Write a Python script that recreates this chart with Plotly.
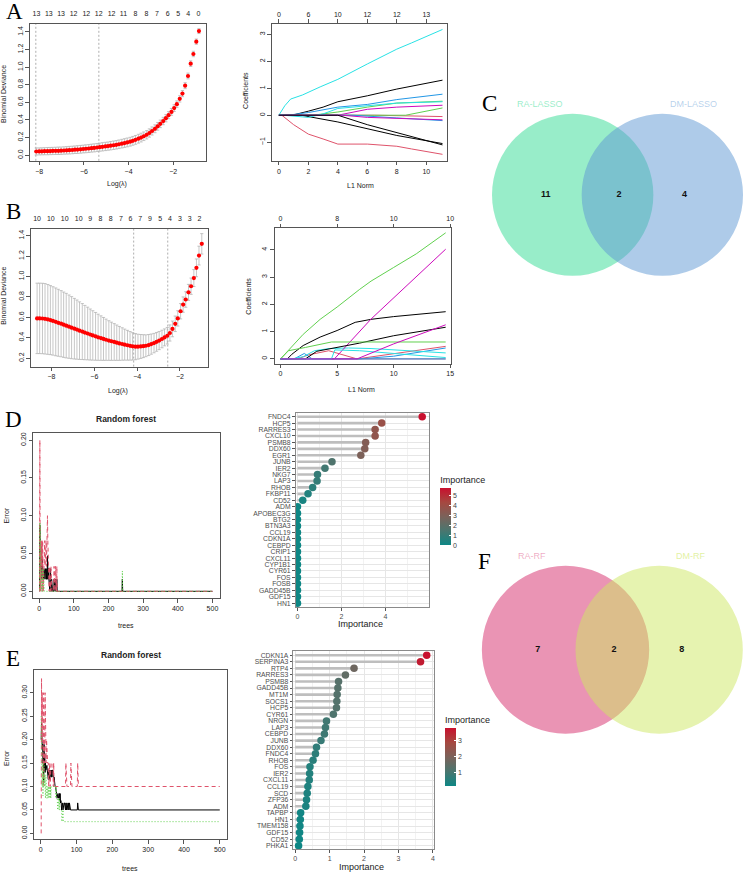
import plotly.graph_objects as go

W, H = 749, 872


def fx(p):
    return p / W


def fy(p):
    return 1 - p / H


SANS = "Liberation Sans"
SERIF = "Liberation Serif"
R_PAL = ["#000000", "#DF536B", "#61D04F", "#2297E6", "#28E2E5", "#CD0BBC"]

# ====================== DATA ======================
# ---- A (RA) : cross-validated LASSO ----
A_loglam = [-8.13, -8.00, -7.88, -7.76, -7.63, -7.51, -7.39, -7.26, -7.14, -7.02,
            -6.89, -6.77, -6.65, -6.52, -6.40, -6.28, -6.15, -6.03, -5.91, -5.78,
            -5.66, -5.54, -5.41, -5.29, -5.17, -5.04, -4.92, -4.80, -4.67, -4.55,
            -4.43, -4.30, -4.18, -4.06, -3.93, -3.81, -3.69, -3.56, -3.44, -3.32,
            -3.19, -3.07, -2.95, -2.82, -2.70, -2.58, -2.45, -2.33, -2.21, -2.08,
            -1.96, -1.84, -1.71, -1.59, -1.47, -1.34, -1.22, -1.10, -0.97, -0.85]
A_dev = [0.042, 0.043, 0.044, 0.045, 0.046, 0.047, 0.048, 0.049, 0.050, 0.051,
         0.053, 0.055, 0.057, 0.059, 0.062, 0.064, 0.067, 0.070, 0.073, 0.076,
         0.080, 0.083, 0.087, 0.091, 0.095, 0.099, 0.103, 0.108, 0.113, 0.118,
         0.124, 0.131, 0.138, 0.145, 0.153, 0.163, 0.174, 0.187, 0.200, 0.215,
         0.232, 0.252, 0.275, 0.300, 0.328, 0.356, 0.388, 0.420, 0.455, 0.492,
         0.535, 0.580, 0.640, 0.700, 0.790, 0.900, 1.040, 1.150, 1.290, 1.410]
A_se = [0.040, 0.040, 0.040, 0.040, 0.041, 0.041, 0.041, 0.041, 0.042, 0.042,
        0.042, 0.042, 0.043, 0.043, 0.043, 0.044, 0.044, 0.044, 0.045, 0.045,
        0.045, 0.046, 0.046, 0.046, 0.047, 0.047, 0.047, 0.048, 0.048, 0.048,
        0.049, 0.049, 0.049, 0.050, 0.050, 0.050, 0.050, 0.050, 0.050, 0.049,
        0.048, 0.047, 0.046, 0.045, 0.044, 0.043, 0.042, 0.041, 0.040, 0.039,
        0.038, 0.037, 0.036, 0.035, 0.034, 0.033, 0.032, 0.031, 0.030, 0.028]
A_lam_lines = [-8.15, -5.33]
A_top_pos = [-8.12, -7.57, -7.02, -6.46, -5.89, -5.34, -4.76, -4.23, -3.69, -3.20,
             -2.73, -2.25, -1.78, -1.33, -0.87]
A_top_lab = ["13", "13", "13", "12", "12", "12", "12", "11", "8", "8", "7", "6", "5", "4", "0"]
A_x_ticks = [-8, -6, -4, -2]
A_y_ticks = [0.0, 0.2, 0.4, 0.6, 0.8, 1.0, 1.2, 1.4]

# ---- A : coefficient paths (L1 norm, coefficient) ----
A_paths = [
    [(0, 0), (0.9, 0), (2, 0.15), (3, 0.3), (4, 0.5), (6, 0.72), (8, 0.97), (11.1, 1.3)],
    [(0, 0), (0.2, 0), (1, -0.35), (2, -0.7), (3, -0.88), (4, -1.07), (6, -1.07), (8, -1.15), (9, -1.25), (11.1, -1.45)],
    [(0, 0), (2.3, 0), (4, 0.12), (6, 0.3), (8, 0.45), (11.1, 0.52)],
    [(0, 0), (0.6, 0), (2, 0.1), (4, 0.3), (6, 0.4), (8, 0.58), (11.1, 0.78)],
    [(0, 0), (0.4, 0.35), (0.8, 0.6), (1.6, 0.75), (2.8, 1.05), (4, 1.33), (6, 1.9), (8, 2.45), (9, 2.68), (11.1, 3.18)],
    [(0, 0), (2, 0), (4, 0), (6, 0.22), (8, 0.3), (11.1, 0.37)],
    [(0, 0), (1.5, 0), (4, -0.25), (6, -0.5), (8, -0.75), (11.1, -1.05)],
    [(0, 0), (6.5, 0), (11.1, -0.05)],
    [(0, 0), (4, 0), (8.6, 0), (11.1, 0.27)],
    [(0, 0), (5, 0), (8, -0.1), (11.1, -0.2)],
    [(0, 0), (0.3, 0), (2, -0.08), (3, 0.05), (4, 0.25), (6, 0.35), (8, 0.45), (11.1, 0.5)],
    [(0, 0), (4.3, 0), (6, -0.08), (11.1, -0.17)],
    [(0, 0), (4, 0), (6, -0.35), (8, -0.65), (11.1, -1.1)],
]
A_l1_ticks = [0, 2, 4, 6, 8, 10]
A_l1_top = ["0", "6", "10", "12", "12", "13"]
A_coef_ticks = [-1, 0, 1, 2, 3]

# ---- B (DM) : cross-validated LASSO ----
B_loglam = [-8.67, -8.55, -8.42, -8.30, -8.17, -8.05, -7.93, -7.80, -7.68, -7.55,
            -7.43, -7.31, -7.18, -7.06, -6.93, -6.81, -6.69, -6.56, -6.44, -6.31,
            -6.19, -6.07, -5.94, -5.82, -5.69, -5.57, -5.45, -5.32, -5.20, -5.07,
            -4.95, -4.83, -4.70, -4.58, -4.45, -4.33, -4.21, -4.08, -3.96, -3.83,
            -3.71, -3.59, -3.46, -3.34, -3.21, -3.09, -2.97, -2.84, -2.72, -2.59,
            -2.47, -2.35, -2.22, -2.10, -1.97, -1.85, -1.73, -1.60, -1.48, -1.35,
            -1.23, -1.11, -0.98]
B_dev = [0.590, 0.590, 0.589, 0.586, 0.580, 0.573, 0.565, 0.556, 0.547, 0.538,
         0.528, 0.519, 0.509, 0.499, 0.489, 0.480, 0.470, 0.461, 0.451, 0.442,
         0.432, 0.423, 0.414, 0.405, 0.397, 0.389, 0.381, 0.373, 0.366, 0.359,
         0.352, 0.345, 0.339, 0.333, 0.327, 0.321, 0.316, 0.313, 0.313, 0.315,
         0.318, 0.322, 0.329, 0.338, 0.348, 0.360, 0.373, 0.388, 0.404, 0.420,
         0.447, 0.487, 0.537, 0.590, 0.660, 0.725, 0.775, 0.845, 0.905, 0.985,
         1.085, 1.205, 1.320]
B_se = [0.345, 0.345, 0.345, 0.345, 0.342, 0.338, 0.335, 0.332, 0.328, 0.324,
        0.320, 0.316, 0.310, 0.304, 0.297, 0.290, 0.282, 0.274, 0.266, 0.258,
        0.250, 0.242, 0.234, 0.226, 0.218, 0.210, 0.202, 0.194, 0.187, 0.180,
        0.173, 0.166, 0.159, 0.152, 0.146, 0.140, 0.134, 0.128, 0.122, 0.117,
        0.112, 0.107, 0.103, 0.099, 0.095, 0.092, 0.089, 0.086, 0.083, 0.081,
        0.079, 0.077, 0.076, 0.075, 0.075, 0.075, 0.076, 0.078, 0.080, 0.083,
        0.087, 0.092, 0.100]
B_lam_lines = [-4.16, -2.57]
B_top_pos = [-8.67, -8.03, -7.38, -6.73, -6.19, -5.71, -5.23, -4.76, -4.31, -3.86,
             -3.40, -2.92, -2.47, -2.00, -1.54, -1.09]
B_top_lab = ["10", "10", "10", "10", "9", "8", "8", "7", "6", "7", "9", "5", "4", "3", "3", "2"]
B_x_ticks = [-8, -6, -4, -2]
B_y_ticks = [0.2, 0.4, 0.6, 0.8, 1.0, 1.2, 1.4]

B_paths = [
    [(0, 0), (0.6, 0), (1, 0.17), (2, 0.49), (3.5, 0.8), (5, 1.04), (6.6, 1.34), (8, 1.45), (10, 1.55), (14.6, 1.73)],
    [(0, 0), (1.5, 0), (2.5, 0.15), (4.26, 0.3), (6.76, 0), (10, 0.2), (14.6, 0.46)],
    [(0, 0), (1, 0.45), (2, 0.9), (3.5, 1.45), (5, 1.9), (7, 2.55), (8, 2.85), (10, 3.35), (12, 3.85), (14.6, 4.62)],
    [(0, 0), (1.2, 0), (2.1, 0.2), (2.8, 0), (7, 0), (10, 0.1), (14.6, 0.4)],
    [(0, 0), (1, 0), (2, 0.08), (3, 0.3), (4.3, 0.38), (6, 0.4), (8, 0.38), (10, 0.33), (14.6, 0.22)],
    [(0, 0), (4.76, 0), (8, 1.46), (14.6, 4.02)],
    [(0, 0), (2.2, 0), (3.2, 0.28), (5, 0.42), (7, 0.58), (10, 0.85), (14.6, 1.16)],
    [(0, 0), (14.6, 0)],
    [(0, 0), (0.7, 0.3), (2.2, 0.42), (3.5, 0.52), (4.5, 0.62), (14.6, 0.62)],
    [(0, 0), (14.6, 0)],
    [(0, 0), (4.5, 0), (4.8, 0.33), (7, 0.3), (10, 0.2), (14.6, 0.05)],
    [(0, 0), (6.76, 0), (10, 0.55), (14.6, 1.25)],
]
B_l1_ticks = [0, 5, 10, 15]
B_l1_top = ["0", "8", "10", "10"]
B_coef_ticks = [0, 1, 2, 3, 4]

# ---- C : Venn LASSO ----
C_sets = ["RA-LASSO", "DM-LASSO"]
C_counts = [11, 2, 4]

# ---- D (RA) : random forest error ----
D_trees = list(range(1, 53)) + [239, 240, 241, 500]
D_oob = [0.0, 0.088, 0.06, 0.03, 0.06, 0.03, 0.045, 0.016, 0.045, 0.03,
         0.016, 0.03, 0.016, 0.03, 0.016, 0.03, 0.016, 0.03, 0.016, 0.03,
         0.016, 0.03, 0.016, 0.047, 0.03, 0.016, 0.03, 0.016, 0.0, 0.016,
         0.0, 0.03, 0.0, 0.016, 0.0, 0.016, 0.0, 0.0, 0.0, 0.0,
         0.0, 0.0, 0.016, 0.0, 0.016, 0.0, 0.016, 0.0, 0.016, 0.0,
         0.016, 0.0,
         0.0, 0.016, 0.0, 0.0]
D_cls1 = [0.0, 0.2, 0.0, 0.067, 0.0, 0.067, 0.033, 0.067, 0.0, 0.067,
          0.033, 0.0, 0.033, 0.067, 0.033, 0.067, 0.033, 0.067, 0.033, 0.067,
          0.033, 0.067, 0.033, 0.1, 0.067, 0.033, 0.067, 0.033, 0.0, 0.033,
          0.0, 0.033, 0.0, 0.033, 0.0, 0.033, 0.0, 0.0, 0.0, 0.0,
          0.0, 0.0, 0.033, 0.0, 0.033, 0.0, 0.033, 0.0, 0.033, 0.0,
          0.033, 0.0,
          0.0, 0.0, 0.0, 0.0]
D_cls2 = [0.09, 0.0, 0.09, 0.06, 0.03, 0.06, 0.0, 0.03, 0.0, 0.03,
          0.0, 0.03, 0.0, 0.0, 0.0, 0.0, 0.0, 0.0, 0.0, 0.0,
          0.0, 0.0, 0.0, 0.0, 0.0, 0.0, 0.0, 0.0, 0.0, 0.0,
          0.0, 0.0, 0.0, 0.0, 0.0, 0.0, 0.0, 0.0, 0.0, 0.0,
          0.0, 0.0, 0.0, 0.0, 0.0, 0.0, 0.0, 0.0, 0.0, 0.0,
          0.0, 0.0,
          0.0, 0.027, 0.0, 0.0]
D_x_ticks = [0, 100, 200, 300, 400, 500]
D_y_ticks = [0.0, 0.05, 0.10, 0.15, 0.20]

# ---- D : importance ----
D_genes = ["FNDC4", "HCP5", "RARRES3", "CXCL10", "PSMB8", "DDX60", "EGR1", "JUNB", "IER2", "NKG7",
           "LAP3", "RHOB", "FKBP11", "CD52", "ADM", "APOBEC3G", "BTG2", "BTN3A3", "CCL19", "CDKN1A",
           "CEBPD", "CRIP1", "CXCL11", "CYP1B1", "CYR61", "FOS", "FOSB", "GADD45B", "GDF15", "HN1"]
D_imp = [5.67, 3.83, 3.53, 3.53, 3.10, 3.06, 2.88, 1.57, 1.25, 0.91,
         0.89, 0.69, 0.48, 0.24, 0.0, 0.0, 0.0, 0.0, 0.0, 0.0,
         0.0, 0.0, 0.0, 0.0, 0.0, 0.0, 0.0, 0.0, 0.0, 0.0]
D_imp_ticks = [0, 2, 4]
D_cbar_ticks = [0, 1, 2, 3, 4, 5]

# ---- E (DM) : random forest error ----
E_trees = list(range(1, 106)) + [500]
E_oob = [0.20, 0.235, 0.21, 0.18, 0.19, 0.15, 0.16, 0.11, 0.19, 0.14,
         0.17, 0.13, 0.15, 0.135, 0.145, 0.135, 0.145, 0.135, 0.12, 0.135,
         0.115, 0.135, 0.12, 0.135, 0.115, 0.135, 0.12, 0.135, 0.12, 0.135,
         0.12, 0.135, 0.135, 0.12, 0.135, 0.115, 0.12, 0.1, 0.115, 0.1,
         0.1, 0.085, 0.1, 0.085, 0.075, 0.085, 0.075, 0.085, 0.075, 0.085,
         0.075, 0.085, 0.07, 0.085, 0.065, 0.07, 0.065, 0.05, 0.065, 0.05,
         0.065, 0.05, 0.065, 0.05, 0.065, 0.065, 0.05, 0.065, 0.05, 0.065,
         0.05, 0.05, 0.065, 0.05, 0.05, 0.05, 0.065, 0.05, 0.05, 0.065,
         0.05, 0.05, 0.05, 0.05, 0.05, 0.05, 0.05, 0.05, 0.05, 0.05,
         0.05, 0.05, 0.05, 0.05, 0.05, 0.05, 0.05, 0.05, 0.05, 0.05,
         0.05, 0.05, 0.065, 0.05, 0.05,
         0.05]
E_cls1 = [0.0, 0.33, 0.2, 0.3, 0.15, 0.25, 0.1, 0.3, 0.2, 0.25,
          0.15, 0.3, 0.2, 0.25, 0.15, 0.2, 0.15, 0.2, 0.15, 0.15,
          0.15, 0.1, 0.15, 0.15, 0.15, 0.1, 0.15, 0.15, 0.15, 0.15,
          0.15, 0.15, 0.15, 0.15, 0.1, 0.15, 0.1, 0.1, 0.1, 0.1,
          0.1, 0.1, 0.1, 0.1, 0.1, 0.1, 0.1, 0.1, 0.1, 0.1,
          0.1, 0.1, 0.1, 0.1, 0.1, 0.1, 0.1, 0.1, 0.1, 0.1,
          0.1, 0.1, 0.1, 0.1, 0.1, 0.1, 0.1, 0.1, 0.1, 0.15,
          0.1, 0.15, 0.1, 0.1, 0.1, 0.1, 0.1, 0.1, 0.1, 0.1,
          0.1, 0.1, 0.1, 0.15, 0.1, 0.15, 0.1, 0.1, 0.1, 0.1,
          0.1, 0.1, 0.1, 0.1, 0.1, 0.1, 0.1, 0.1, 0.1, 0.1,
          0.1, 0.1, 0.15, 0.1, 0.1,
          0.1]
E_cls2 = [0.25, 0.15, 0.2, 0.1, 0.15, 0.08, 0.125, 0.1, 0.15, 0.1,
          0.125, 0.1, 0.075, 0.125, 0.1, 0.1, 0.075, 0.1, 0.075, 0.075,
          0.1, 0.075, 0.075, 0.1, 0.075, 0.075, 0.1, 0.075, 0.1, 0.1,
          0.1, 0.1, 0.1, 0.1, 0.1, 0.1, 0.1, 0.1, 0.1, 0.1,
          0.1, 0.075, 0.1, 0.075, 0.075, 0.075, 0.05, 0.075, 0.05, 0.075,
          0.05, 0.075, 0.05, 0.05, 0.05, 0.05, 0.05, 0.05, 0.025, 0.05,
          0.025, 0.05, 0.025, 0.025, 0.025, 0.025, 0.025, 0.025, 0.025, 0.025,
          0.025, 0.025, 0.025, 0.025, 0.025, 0.025, 0.025, 0.025, 0.025, 0.025,
          0.025, 0.025, 0.025, 0.025, 0.025, 0.025, 0.025, 0.025, 0.025, 0.025,
          0.025, 0.025, 0.025, 0.025, 0.025, 0.025, 0.025, 0.025, 0.025, 0.025,
          0.025, 0.025, 0.025, 0.025, 0.025,
          0.025]
E_x_ticks = [0, 100, 200, 300, 400, 500]
E_y_ticks = [0.0, 0.05, 0.10, 0.15, 0.20, 0.25, 0.30]

# ---- E : importance ----
E_genes = ["CDKN1A", "SERPINA3", "RTP4", "RARRES3", "PSMB8", "GADD45B", "MT1M", "SOCS1", "HCP5", "CYR61",
           "NRGN", "LAP3", "CEBPD", "JUNB", "DDX60", "FNDC4", "RHOB", "FOS", "IER2", "CXCL11",
           "CCL19", "SCD", "ZFP36", "ADM", "TAPBP", "HN1", "TMEM158", "GDF15", "CD52", "PHKA1"]
E_imp = [3.82, 3.64, 1.71, 1.46, 1.26, 1.24, 1.22, 1.21, 1.20, 1.11,
         0.91, 0.88, 0.85, 0.75, 0.62, 0.59, 0.52, 0.43, 0.42, 0.41,
         0.37, 0.35, 0.33, 0.31, 0.16, 0.15, 0.14, 0.13, 0.12, 0.10]
E_imp_ticks = [0, 1, 2, 3, 4]
E_cbar_ticks = [1, 2, 3]

# ---- F : Venn RF ----
F_sets = ["RA-RF", "DM-RF"]
F_counts = [7, 2, 8]

# ====================== STYLE ======================
CS = [[0.0, "#0E8785"], [0.25, "#4A766F"], [0.5, "#7B625A"], [0.75, "#A64840"], [1.0, "#C8102E"]]
R_TICKFONT = dict(family=SANS, size=7, color="#222222")
R_AX = dict(showline=True, linecolor="#555555", linewidth=1, mirror=True, ticks="outside",
            ticklen=3.5, tickwidth=0.8, tickcolor="#555555", showgrid=False, zeroline=False,
            tickfont=R_TICKFONT)
GG_AX = dict(showline=True, linecolor="#8A8A8A", linewidth=1, mirror=True, ticks="outside",
             ticklen=2.5, tickwidth=0.8, tickcolor="#555555", showgrid=True, gridcolor="#E6E6E6",
             gridwidth=0.8, zeroline=False, tickfont=dict(family=SANS, size=7, color="#4D4D4D"))

fig = go.Figure()
lay = {}
annots = []


def dom_x(a, b):
    return [fx(a), fx(b)]


def dom_y(top, bottom):
    return [fy(bottom), fy(top)]


def ann(text, x, y, size=7, rot=0, color="#222222", family=SANS):
    annots.append(dict(text=text, x=fx(x), y=fy(y), xref="paper", yref="paper", showarrow=False,
                       textangle=rot, xanchor="center", yanchor="middle",
                       font=dict(family=family, size=size, color=color)))


def r_box(xn, yn, xpx, ypx, xr, yr, xt, yt, yfmt=None):
    xk = "xaxis" if xn == 1 else f"xaxis{xn}"
    yk = "yaxis" if yn == 1 else f"yaxis{yn}"
    xa = dict(R_AX, domain=dom_x(*xpx), range=xr, tickvals=xt, anchor=("y" if yn == 1 else f"y{yn}"))
    ya = dict(R_AX, domain=dom_y(*ypx), range=yr, tickvals=yt, anchor=("x" if xn == 1 else f"x{xn}"),
              tickangle=-90)
    if yfmt:
        ya["tickformat"] = yfmt
    lay[xk] = xa
    lay[yk] = ya


def r_top(xn, base, yn, xr, tv, tt, ticks):
    lay[f"xaxis{xn}"] = dict(overlaying=base, side="top", anchor=("y" if yn == 1 else f"y{yn}"),
                             range=xr, tickvals=tv, ticktext=tt, showgrid=False, zeroline=False,
                             showline=False, ticks="outside", ticklen=(3.5 if ticks else 4),
                             tickwidth=0.8, tickcolor=("#555555" if ticks else "rgba(0,0,0,0)"),
                             tickfont=R_TICKFONT)


def cv_traces(xa, xt, ya, loglam, dev, se, lam_lines, top_pos):
    fig.add_trace(go.Scatter(x=loglam, y=dev, mode="markers",
                             marker=dict(color="#FF0000", size=4.2, line=dict(width=0)),
                             error_y=dict(type="data", array=se, color="#ADADAD", thickness=0.7, width=1.6),
                             xaxis=xa, yaxis=ya, hoverinfo="skip", showlegend=False))
    fig.add_trace(go.Scatter(x=top_pos, y=[dev[0]] * len(top_pos), mode="markers",
                             marker=dict(opacity=0), xaxis=xt, yaxis=ya, hoverinfo="skip",
                             showlegend=False))
    for v in lam_lines:
        fig.add_shape(type="line", xref=xa, yref=f"{ya} domain", x0=v, x1=v, y0=0, y1=1,
                      line=dict(color="#999999", width=0.8, dash="2px,2px"), layer="below")


def path_traces(paths, xa, xt, ya, top_pos):
    for i, path in enumerate(paths):
        fig.add_trace(go.Scatter(x=[p[0] for p in path], y=[p[1] for p in path], mode="lines",
                                 line=dict(color=R_PAL[i % 6], width=1), xaxis=xa, yaxis=ya,
                                 hoverinfo="skip", showlegend=False))
    fig.add_trace(go.Scatter(x=top_pos, y=[0] * len(top_pos), mode="markers", marker=dict(opacity=0),
                             xaxis=xt, yaxis=ya, hoverinfo="skip", showlegend=False))


def rf_traces(trees, oob, c1, c2, xa, ya):
    for vals, col, dash in [(oob, "#000000", "solid"), (c1, "#DF536B", "4px,3px"),
                            (c2, "#61D04F", "1px,2px")]:
        fig.add_trace(go.Scatter(x=trees, y=vals, mode="lines", line=dict(color=col, width=1, dash=dash),
                                 xaxis=xa, yaxis=ya, hoverinfo="skip", showlegend=False))


def lolli(genes, imp, xa, ya, cmin, cmax, cbar):
    sx, sy = [], []
    for g, v in zip(genes, imp):
        sx += [0, v, None]
        sy += [g, g, None]
    fig.add_trace(go.Scatter(x=sx, y=sy, mode="lines", line=dict(color="#BEBEBE", width=2.6),
                             xaxis=xa, yaxis=ya, hoverinfo="skip", showlegend=False))
    fig.add_trace(go.Scatter(x=imp, y=genes, mode="markers",
                             marker=dict(color=imp, colorscale=CS, cmin=cmin, cmax=cmax, size=7.5,
                                         line=dict(width=0), showscale=True, colorbar=cbar),
                             xaxis=xa, yaxis=ya, hoverinfo="skip", showlegend=False))


def cbar(x_left, y_top, y_bottom, tv):
    return dict(x=fx(x_left), xanchor="left", xpad=0, y=fy(y_bottom), yanchor="bottom", ypad=0,
                lenmode="pixels", len=y_bottom - y_top, thickness=11, thicknessmode="pixels",
                outlinewidth=0, tickvals=tv, ticks="inside", ticklen=2, tickcolor="white",
                tickfont=dict(family=SANS, size=7, color="#444444"),
                title=dict(text="Importance", side="top", font=dict(family=SANS, size=9, color="#222222")))


def gg_cat_y(genes, top, bottom, rng, anchor):
    return dict(GG_AX, domain=dom_y(top, bottom), type="category", categoryorder="array",
                categoryarray=genes, range=rng, anchor=anchor, tickmode="array", tickvals=genes,
                ticktext=genes, tickfont=dict(family=SANS, size=6.8, color="#4D4D4D"))


VENN_NUM_X = [-0.89, 0.02, 0.83]
VENN_LAB_X = [-0.96, 0.94]
VENN_LAB_Y = 1.12


def venn(xn, yn, cx_px, cy_px, unit_px, box, sep, names, counts, fills, labcols):
    x0, x1, ytop, ybot = box
    lay[f"xaxis{xn}"] = dict(domain=dom_x(x0, x1), range=[(x0 - cx_px) / unit_px, (x1 - cx_px) / unit_px],
                             visible=False, anchor=f"y{yn}")
    lay[f"yaxis{yn}"] = dict(domain=dom_y(ytop, ybot), range=[(cy_px - ybot) / unit_px, (cy_px - ytop) / unit_px],
                             visible=False, anchor=f"x{xn}")
    for c, col in zip([-sep, sep], fills):
        fig.add_shape(type="circle", xref=f"x{xn}", yref=f"y{yn}", x0=c - 1, x1=c + 1, y0=-1, y1=1,
                      fillcolor=col, line=dict(width=0), layer="below")
    fig.add_trace(go.Scatter(x=VENN_NUM_X, y=[0, 0, 0], mode="text", text=[f"<b>{c}</b>" for c in counts],
                             textfont=dict(family=SANS, size=9, color="#111111"), xaxis=f"x{xn}",
                             yaxis=f"y{yn}", hoverinfo="skip", showlegend=False))
    for nm, lx, lc in zip(names, VENN_LAB_X, labcols):
        annots.append(dict(text=nm, x=lx, y=VENN_LAB_Y, xref=f"x{xn}", yref=f"y{yn}", showarrow=False,
                           font=dict(family=SANS, size=9, color=lc)))


# ====================== PANELS ======================
# A left
r_box(1, 1, (30, 207), (23, 160), [-8.416, -0.528], [-0.064, 1.491], A_x_ticks, A_y_ticks, ".1f")
r_top(2, "x", 1, [-8.416, -0.528], A_top_pos, A_top_lab, False)
cv_traces("x", "x2", "y", A_loglam, A_dev, A_se, A_lam_lines, A_top_pos)
# A right
r_box(3, 2, (273, 449), (23, 160), [-0.473, 11.42], [-1.69, 3.383], A_l1_ticks, A_coef_ticks)
r_top(4, "x3", 2, [-0.473, 11.42], A_l1_ticks, A_l1_top, True)
path_traces(A_paths, "x3", "x4", "y2", A_l1_ticks)
# B left
r_box(5, 3, (31, 209), (228, 366), [-8.961, -0.682], [0.118, 1.468], B_x_ticks, B_y_ticks, ".1f")
r_top(6, "x5", 3, [-8.961, -0.682], B_top_pos, B_top_lab, False)
cv_traces("x5", "x6", "y3", B_loglam, B_dev, B_se, B_lam_lines, B_top_pos)
# B right
r_box(7, 4, (275.7, 452.7), (227.7, 363), [-0.526, 15.06], [-0.171, 4.78], B_l1_ticks, B_coef_ticks)
r_top(8, "x7", 4, [-0.526, 15.06], B_l1_ticks, B_l1_top, True)
path_traces(B_paths, "x7", "x8", "y4", B_l1_ticks)
# D left
r_box(9, 5, (33.3, 220.7), (432.3, 597.7), [-17.3, 521.2], [-0.00885, 0.2097], D_x_ticks, D_y_ticks, ".2f")
rf_traces(D_trees, D_oob, D_cls1, D_cls2, "x9", "y5")
# E left
r_box(11, 7, (34.3, 227.7), (670, 839.3), [-18.6, 519.6], [-0.0127, 0.348], E_x_ticks, E_y_ticks, ".2f")
rf_traces(E_trees, E_oob, E_cls1, E_cls2, "x11", "y7")

# D right lollipop
lay["xaxis10"] = dict(GG_AX, domain=dom_x(296.7, 430.3), range=[-0.089, 5.96], tickvals=D_imp_ticks,
                      anchor="y6", minor=dict(tickvals=[1, 3, 5], showgrid=True, gridcolor="#F2F2F2", ticks=""))
lay["yaxis6"] = gg_cat_y(D_genes, 412.3, 606.7, [29.6, -0.6], "x10")
lolli(D_genes, D_imp, "x10", "y6", 0, max(D_imp), cbar(442, 473, 545, D_cbar_ticks))
# E right lollipop
lay["xaxis12"] = dict(GG_AX, domain=dom_x(294.3, 435.7), range=[-0.059, 4.03], tickvals=E_imp_ticks,
                      anchor="y8", minor=dict(tickvals=[0.5, 1.5, 2.5, 3.5], showgrid=True, gridcolor="#F2F2F2", ticks=""))
lay["yaxis8"] = gg_cat_y(E_genes, 651, 849.3, [29.55, -0.6], "x12")
lolli(E_genes, E_imp, "x12", "y8", min(E_imp), max(E_imp), cbar(446.7, 713, 786, E_cbar_ticks))

# Venns
venn(13, 9, 620, 194, 81, (480, 749, 90, 290), 0.5556, C_sets, C_counts,
     ["rgba(49,219,147,0.5)", "rgba(93,151,211,0.5)"], ["rgba(49,219,147,0.5)", "rgba(93,151,211,0.45)"])
venn(14, 10, 614.8, 649.5, 84, (470, 749, 540, 740), 0.5595, F_sets, F_counts,
     ["rgba(213,41,105,0.5)", "rgba(205,231,97,0.5)"], ["rgba(213,41,105,0.4)", "rgba(205,231,97,0.6)"])

# Axis titles
ann("Binomial Deviance", 4, 93, 7, -90)
ann("Log(λ)", 117.3, 183.3, 7)
ann("Coefficients", 247, 90, 7, -90)
ann("L1 Norm", 361.7, 185, 7)
ann("Binomial Deviance", 4, 295, 7, -90)
ann("Log(λ)", 118.3, 390, 7)
ann("Coefficients", 250, 295, 7, -90)
ann("L1 Norm", 363.3, 389.3, 7)
ann("Error", 6, 515, 7, -90)
ann("trees", 126.7, 625, 7)
ann("<b>Random forest</b>", 126.7, 418.3, 8.5)
ann("Error", 6, 758, 7, -90)
ann("trees", 131, 868, 7)
ann("<b>Random forest</b>", 131.7, 654.3, 8.5)
ann("Importance", 361.7, 624, 9)
ann("Importance", 363, 866.5, 9)

# Panel letters
for letter, x, y in [("A", 15, 11), ("B", 14, 211), ("C", 491, 103), ("D", 14, 419), ("E", 13, 658), ("F", 486, 561)]:
    ann(letter, x, y, 23, 0, "#000000", SERIF)

fig.update_layout(width=W, height=H, margin=dict(l=0, r=0, t=0, b=0), paper_bgcolor="white",
                  plot_bgcolor="white", showlegend=False, annotations=annots, **lay)

fig.write_html("out.html")
